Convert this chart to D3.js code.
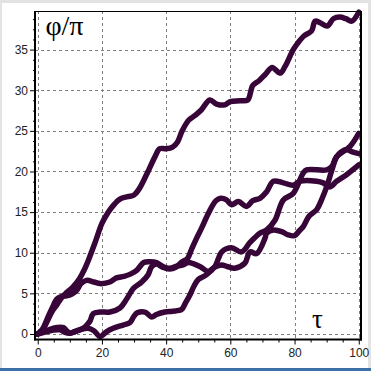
<!DOCTYPE html>
<html>
<head>
<meta charset="utf-8">
<script src="https://cdn.jsdelivr.net/npm/d3@7"></script>
<style>
  html, body { margin: 0; padding: 0; background: #ffffff; }
  svg { display: block; }
</style>
</head>
<body>
<svg id="chart" width="371" height="371"></svg>
<script>
// ---- data (τ, φ/π) ----
const tauA = [0,1.5,3,4.5,6,7.5,9,11,13,14.5,16,18,20,22,23.5,25.6,28,30,31.5,33,34.6,36.5,38,40,42,43.5,45,47,49,51,53.6,55.7,58.3,60,63,65.4,67,69,71,73,75.5,77,79.6,81,83,85.3,86.4,88,90.2,92.1,94.1,96,97.8,100];
const phiA = [0,0.5,1.6,2.8,3.6,4.5,5.1,5.8,6.8,7.9,9.3,11.4,13.6,15,15.8,16.6,16.9,17.1,17.8,18.9,20.2,21.8,22.8,22.8,23,23.6,25,26.3,26.9,27.6,28.8,28.3,28.2,28.6,28.7,28.8,30.6,31.2,32,32.8,32.1,32.9,35,35.8,36.7,37.3,38.5,38.3,37.9,38.8,39,38.8,38.5,39.6];

const tauB = [0,1.5,3,4.5,6,7.5,9,10.5,12,13.5,15.2,17.5,19.4,22.5,24.5,26.9,29,31,33,35,37,39,41,43,45,46.5,48,49.5,51,52.5,54,55.5,57,58.8,60.4,62.5,65,67,69.2,71.3,73.4,76.5,79.6,81.7,86.9,88.9,91,93.1,96.2,100];
const phiB = [0,0.6,1.9,3.2,4.3,4.6,4.7,4.9,5.3,6.2,6.6,6.4,6.2,6.4,6.9,7.1,7.4,7.9,8.8,8.9,8.8,8.3,8.0,8.2,8.9,9.2,10.5,11.8,13,14.3,15.5,16.4,16.7,16.5,15.9,16.3,15.7,16.4,16.7,17.5,18.8,18.6,18.3,18.8,18.8,18.6,18.1,18.8,19.6,20.8];

const tauC = [0,2,4,6,8,9,10,11,13,15.7,17.5,19.4,21.5,23.5,26.6,28.7,30,31,33.4,35.5,37,39.6,42,44.8,46,47.4,48.7,50,52.6,55.2,56.3,57.3,60.4,63.5,66,67.5,69.2,71.3,73.9,76.5,79.6,82.7,83.8,90,91.6,93.1,97.3,100];
const phiC = [0,0.3,0.6,0.8,0.8,0.4,0.1,0.2,0.5,0.7,0.4,-0.3,0.3,0.7,1.1,1.4,2.2,2.6,2.7,2.1,2.4,2.7,2.8,3,3.8,4.8,5.9,6.7,7.3,8.3,9.3,10.1,10.6,10.1,11.2,11.8,12.4,12.8,14,16.5,17.3,19.8,20.2,20.2,20.6,21.8,23.1,24.7];

const tauD = [0,3,5,7,8.5,10,11.5,13,14.5,15.5,16.3,17.3,19.4,22.5,25.6,27.7,29.8,32.4,34.4,35.5,37,39,41.2,43,45.3,47,50.5,53.1,55,57.3,59,61.4,64.5,66.1,68.2,70.8,71.3,73.4,76,78,80,81.5,82.7,84.5,86.9,88.5,90,91.5,93.1,94.5,96.2,98,100];
const phiD = [0,0.3,0.5,0.5,0.2,0.1,0.3,0.5,0.8,1.2,1.6,2.5,2.7,2.7,3.2,4.3,5.6,6.4,7.3,8.3,8.6,8.2,8.1,8.3,8.5,8.8,8.3,7.7,8.2,8.5,8.3,8.1,8.7,10.1,9.9,11.8,12.4,12.8,12.6,12.2,12.1,12.7,13.2,14.5,15.3,16.6,18.1,20,21.8,22.4,22.7,22.4,22.2];

const yTicks = [0,5,10,15,20,25,30,35];
const xTicks = [0,20,40,60,80,100];
const yLabel = "φ/π";
const xLabel = "τ";

// ---- layout ----
const svg = d3.select("#chart");
const W = 371, H = 371;

// window frame
svg.append("rect").attr("x",0).attr("y",0).attr("width",W).attr("height",H).attr("fill","#ffffff");
svg.append("rect").attr("x",0).attr("y",0).attr("width",W).attr("height",3).attr("fill","#e3e3e3");
svg.append("rect").attr("x",0).attr("y",0).attr("width",2).attr("height",H).attr("fill","#e3e3e3");
svg.append("rect").attr("x",W-3).attr("y",0).attr("width",3).attr("height",H).attr("fill","#e3e3e3");
svg.append("rect").attr("x",0).attr("y",H-3).attr("width",W).attr("height",3).attr("fill","#3d6fa8");

const x = d3.scaleLinear().domain([-0.85, 100.7]).range([35, 361]);
const y = d3.scaleLinear().domain([-0.68, 39.75]).range([339.5, 11]);
const [x0, x1] = x.range();
const [y0, y1] = y.range();

// gridlines
const grid = svg.append("g").attr("stroke","#7f7f7f").attr("stroke-width",1).attr("stroke-dasharray","3,3").attr("shape-rendering","crispEdges");
grid.selectAll("line.h").data(yTicks).join("line").attr("class","h")
  .attr("x1",x0).attr("x2",x1).attr("y1",d=>Math.round(y(d))+0.5).attr("y2",d=>Math.round(y(d))+0.5);
grid.selectAll("line.v").data(xTicks).join("line").attr("class","v")
  .attr("y1",y1).attr("y2",y0).attr("x1",d=>Math.round(x(d))+0.5).attr("x2",d=>Math.round(x(d))+0.5);

// series
const series = [[tauA,phiA],[tauB,phiB],[tauC,phiC],[tauD,phiD]];
const line = d3.line().x(d=>x(d[0])).y(d=>y(d[1])).curve(d3.curveCatmullRom.alpha(0.5));
svg.append("g").selectAll("path").data(series).join("path")
  .attr("d", s => line(s[0].map((t,i)=>[t, s[1][i]])))
  .attr("fill","none").attr("stroke","#380538").attr("stroke-width",5.5)
  .attr("stroke-linejoin","round").attr("stroke-linecap","round");

// frame border (top thin, right thick)
svg.append("line").attr("x1",x0).attr("x2",x1+1).attr("y1",y1+0.5).attr("y2",y1+0.5).attr("stroke","#000").attr("stroke-width",1);
svg.append("line").attr("x1",x1).attr("x2",x1).attr("y1",y1).attr("y2",y0+1).attr("stroke","#000").attr("stroke-width",2);

// axes
const fontTick = "'Liberation Sans', Arial, sans-serif";
const yMinor = d3.range(0, 39.5, 1.25).filter(v => v % 5 !== 0);
const xMinor = d3.range(0, 101, 5).filter(v => v % 20 !== 0);

const gy = svg.append("g").attr("transform",`translate(${x0},0)`)
  .call(d3.axisLeft(y).tickValues(yTicks).tickSize(5).tickPadding(2).tickFormat(d3.format("d")));
gy.select(".domain").remove();
gy.selectAll("text").attr("font-family",fontTick).attr("font-size","12px").attr("fill","#222");
svg.append("g").attr("transform",`translate(${x0},0)`)
  .call(d3.axisLeft(y).tickValues(yMinor).tickSize(2).tickFormat(""))
  .select(".domain").remove();

const gx = svg.append("g").attr("transform",`translate(0,${y0})`)
  .call(d3.axisBottom(x).tickValues(xTicks).tickSize(5).tickPadding(3.5).tickFormat(d3.format("d")));
gx.select(".domain").remove();
gx.selectAll("text").attr("font-family",fontTick).attr("font-size","12px").attr("fill","#222");
svg.append("g").attr("transform",`translate(0,${y0})`)
  .call(d3.axisBottom(x).tickValues(xMinor).tickSize(3).tickFormat(""))
  .select(".domain").remove();

// axis lines
svg.append("line").attr("x1",x0).attr("x2",x0).attr("y1",y1).attr("y2",y0+1).attr("stroke","#000").attr("stroke-width",2);
svg.append("line").attr("x1",x0-1).attr("x2",x1+1).attr("y1",y0).attr("y2",y0).attr("stroke","#000").attr("stroke-width",2);

// axis labels
svg.append("text").attr("x",x(2.4)).attr("y",y(36.85)).text(yLabel)
  .attr("font-family","'Liberation Serif', 'Times New Roman', serif").attr("font-size","28px").attr("fill","#000");
svg.append("text").attr("x",x(85.4)).attr("y",y(0.75)).text(xLabel)
  .attr("font-family","'Liberation Serif', 'Times New Roman', serif").attr("font-size","27px").attr("fill","#000");
</script>
</body>
</html>
